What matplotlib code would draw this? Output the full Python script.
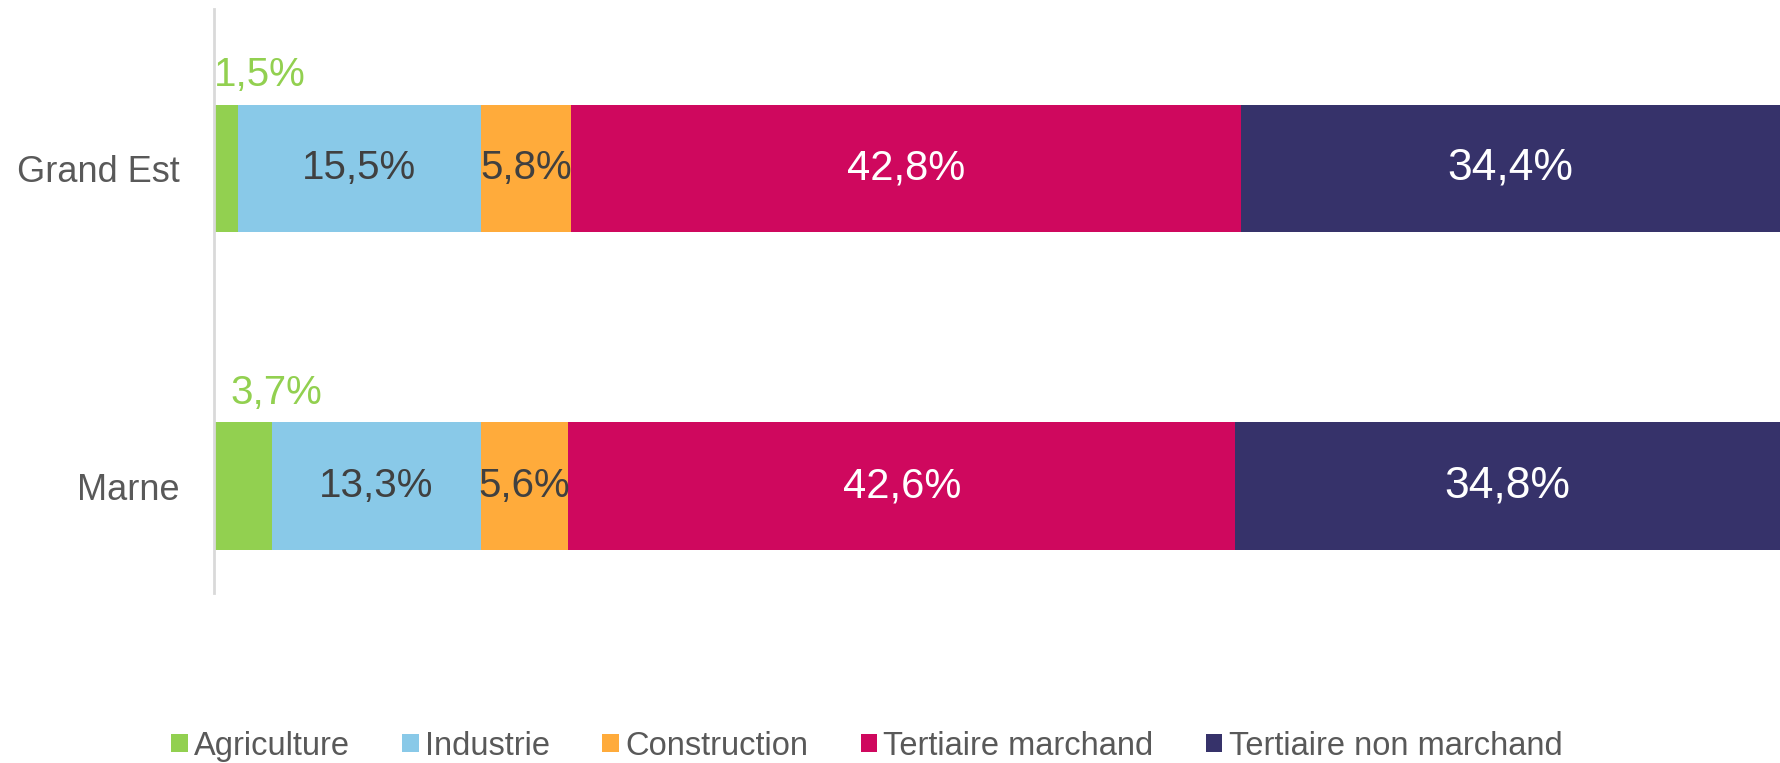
import matplotlib
matplotlib.use('Agg')
import matplotlib.pyplot as plt
from matplotlib.patches import Patch

plt.rcParams['font.family'] = ['Liberation Sans', 'DejaVu Sans']

# data
regions = ['Marne', 'Grand Est']
sectors = ['Agriculture', 'Industrie', 'Construction', 'Tertiaire marchand', 'Tertiaire non marchand']
shares = {
    'Agriculture': [3.7, 1.5],
    'Industrie': [13.3, 15.5],
    'Construction': [5.6, 5.8],
    'Tertiaire marchand': [42.6, 42.8],
    'Tertiaire non marchand': [34.8, 34.4],
}

COLORS = ['#92D050', '#89C9E8', '#FFAB3B', '#CF085E', '#36326A']
LABEL_COLORS = ['#92D050', '#404040', '#404040', '#FFFFFF', '#FFFFFF']
LABEL_SIZES = [29, 29, 29, 30, 32]


def fmt(v):
    return f'{v:.1f}%'.replace('.', ',')


fig = plt.figure(figsize=(17.8, 7.63), dpi=100)
ax = fig.add_axes([0.1205, 0.223, 0.8795, 0.765])

ypos = list(range(len(regions)))
left = [0.0] * len(regions)
for i, sec in enumerate(sectors):
    vals = shares[sec]
    bars = ax.barh(ypos, vals, left=left, height=0.4, color=COLORS[i], linewidth=0)
    for j, (b, v) in enumerate(zip(bars, vals)):
        cx = left[j] + v / 2
        if i == 0:
            # small segment: label placed above the bar
            ax.annotate(fmt(v), xy=(cx, ypos[j] + 0.2), xytext=(24, 21),
                        textcoords='offset points', ha='center', va='center',
                        fontsize=LABEL_SIZES[i], color=LABEL_COLORS[i])
        else:
            ax.text(cx, ypos[j], fmt(v), ha='center', va='center',
                    fontsize=LABEL_SIZES[i], color=LABEL_COLORS[i])
    left = [l + v for l, v in zip(left, vals)]

ax.set_xlim(0, 100)
ax.set_ylim(-0.336, 1.5)
ax.set_yticks(ypos)
ax.set_yticklabels(regions, fontsize=26, color='#595959')
ax.tick_params(axis='y', length=0, pad=25)
ax.set_xticks([])
for side in ['top', 'right', 'bottom']:
    ax.spines[side].set_visible(False)
ax.spines['left'].set_color('#D9D9D9')
ax.spines['left'].set_linewidth(2)

handles = [Patch(facecolor=c, edgecolor='none') for c in COLORS]
fig.legend(handles, sectors, loc='center', bbox_to_anchor=(0.487, 0.022),
           ncol=5, frameon=False, fontsize=23.5, labelcolor='#595959',
           handlelength=0.5, handleheight=0.5, handletextpad=0.2,
           columnspacing=1.6, borderaxespad=0)

fig.savefig('out.png', dpi=100)
